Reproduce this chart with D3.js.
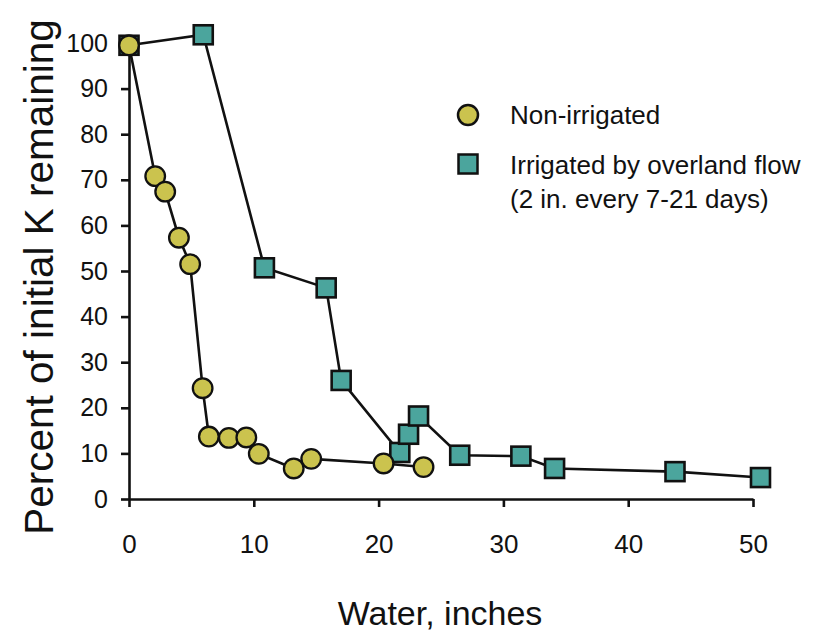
<!DOCTYPE html>
<html>
<head>
<meta charset="utf-8">
<script src="https://cdnjs.cloudflare.com/ajax/libs/d3/7.8.5/d3.min.js"></script>
<style>
  body { margin: 0; background: #fff; }
  svg text { font-family: "Liberation Sans", Arial, Helvetica, sans-serif; fill: #111; }
  .axis path, .axis line { stroke: #111; stroke-width: 2.6; }
  .axis text { font-size: 25px; }
</style>
</head>
<body>
<div id="chart"></div>
<script>
// Data
var nonIrrWater = [0, 2.1, 2.9, 4.0, 4.9, 5.9, 6.4, 8.0, 9.4, 10.4, 13.2, 14.6, 20.4, 23.6];
var nonIrrK     = [99.5, 70.8, 67.4, 57.3, 51.5, 24.3, 13.7, 13.4, 13.5, 9.9, 6.7, 8.8, 7.8, 7.0];

var irrWater = [0, 5.95, 10.85, 15.8, 17.0, 21.7, 22.4, 23.2, 26.5, 31.4, 34.1, 43.75, 50.6];
var irrK     = [99.5, 101.8, 50.7, 46.3, 26.0, 10.2, 14.2, 18.2, 9.6, 9.4, 6.7, 6.0, 4.7];

var xTicks = [0, 10, 20, 30, 40, 50];
var yTicks = [0, 10, 20, 30, 40, 50, 60, 70, 80, 90, 100];

var legendLabels = ["Non-irrigated", "Irrigated by overland flow", "(2 in. every 7-21 days)"];

var width = 815, height = 637;
var circleColor = "#cbc34e", squareColor = "#4ba59d";

var svg = d3.select("#chart").append("svg")
  .attr("width", width)
  .attr("height", height);

//Scales
var x = d3.scaleLinear().domain([0, 50]).range([129, 753]);
var y = d3.scaleLinear().domain([0, 100]).range([499, 43]);

//Axes
var xAxis = svg.append("g")
  .attr("class", "axis")
  .attr("transform", "translate(0," + y(0) + ")")
  .call(d3.axisBottom(x).tickValues(xTicks).tickSize(8).tickSizeOuter(0));

xAxis.selectAll("text")
  .attr("y", 54)
  .attr("dy", 0)
  .style("font-size", "26px");

svg.append("g")
  .attr("class", "axis")
  .attr("transform", "translate(" + x(0) + ",0)")
  .call(d3.axisLeft(y).tickValues(yTicks).tickSize(8).tickSizeOuter(0).tickPadding(13));

//Axis titles
svg.append("text")
  .attr("transform", "translate(53," + 277 + ") rotate(-90)")
  .attr("text-anchor", "middle")
  .style("font-size", "40.5px")
  .text("Percent of initial K remaining");

svg.append("text")
  .attr("x", 440)
  .attr("y", 625)
  .attr("text-anchor", "middle")
  .style("font-size", "34px")
  .text("Water, inches");

//Lines
var nonIrr = nonIrrWater.map(function(d, i) { return {w: d, k: nonIrrK[i]}; });
var irr = irrWater.map(function(d, i) { return {w: d, k: irrK[i]}; });

var line = d3.line()
  .x(function(d) { return x(d.w); })
  .y(function(d) { return y(d.k); });

svg.append("path").datum(nonIrr)
  .attr("d", line)
  .attr("fill", "none").attr("stroke", "#111").attr("stroke-width", 2.6);

svg.append("path").datum(irr)
  .attr("d", line)
  .attr("fill", "none").attr("stroke", "#111").attr("stroke-width", 2.6);

//Markers
var sq = 19;
svg.selectAll(".irr-point")
  .data(irr)
  .enter().append("rect")
  .attr("class", "irr-point")
  .attr("x", function(d) { return x(d.w) - sq / 2; })
  .attr("y", function(d) { return y(d.k) - sq / 2; })
  .attr("width", sq)
  .attr("height", sq)
  .style("fill", squareColor)
  .style("stroke", "#111")
  .style("stroke-width", 2.6);

svg.selectAll(".nonirr-point")
  .data(nonIrr)
  .enter().append("circle")
  .attr("class", "nonirr-point")
  .attr("cx", function(d) { return x(d.w); })
  .attr("cy", function(d) { return y(d.k); })
  .attr("r", 9.8)
  .style("fill", circleColor)
  .style("stroke", "#111")
  .style("stroke-width", 2.3);

//Legend
var legend = svg.append("g").attr("class", "legend");

legend.append("circle")
  .attr("cx", 468).attr("cy", 115).attr("r", 10)
  .style("fill", circleColor).style("stroke", "#111").style("stroke-width", 2.5);

legend.append("rect")
  .attr("x", 468 - 9.5).attr("y", 164 - 9.5).attr("width", 19).attr("height", 19)
  .style("fill", squareColor).style("stroke", "#111").style("stroke-width", 2.5);

legend.selectAll(".legend-text")
  .data(legendLabels)
  .enter().append("text")
  .attr("class", "legend-text")
  .attr("x", 510)
  .attr("y", function(d, i) { return [124, 174, 208][i]; })
  .style("font-size", "26px")
  .text(function(d) { return d; });
</script>
</body>
</html>
